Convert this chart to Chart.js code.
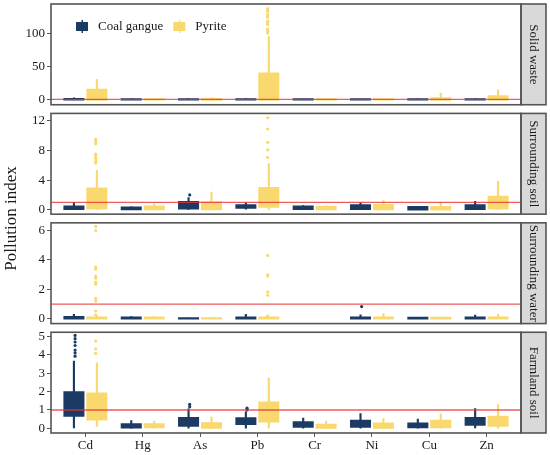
<!DOCTYPE html>
<html>
<head>
<meta charset="utf-8">
<script src="https://cdn.jsdelivr.net/npm/chart.js@4.4.1/dist/chart.umd.min.js"></script>
<style>
  body { margin: 0; background: #fff; }
</style>
</head>
<body>
<canvas id="chart" width="550" height="455"></canvas>
<script>
'use strict';

const elements = ['Cd', 'Hg', 'As', 'Pb', 'Cr', 'Ni', 'Cu', 'Zn'];
const groups = ['Coal gangue', 'Pyrite'];
const media = ['Solid waste', 'Surrounding soil', 'Surrounding water', 'Farmland soil'];
const threshold = 1;

// y range + tick labels of each facet
const solidRange = [-7.2, 145];
const soilRange = [-0.6, 13];
const waterRange = [-0.31, 6.5];
const farmRange = [-0.25, 5.22];
const solidTicks = [0, 50, 100];
const soilTicks = [0, 4, 8, 12];
const waterTicks = [0, 2, 4, 6];
const farmTicks = [0, 1, 2, 3, 4, 5];

// boxplot per element : [lower whisker, Q1, Q3, upper whisker], null = no samples
const solidCoal = [[0, 0, 1.5, 3], [0, 0, 1, 1.5], [0, 0, 1, 2], [0, 0, 1.2, 2], [0, 0, 1, 1.2], [0, 0, 1, 1.2], [0, 0, 1, 1.5], [0, 0, 1, 1.5]];
const solidPyrite = [[0, 0.5, 15.5, 31], [0, 0, 1, 1.5], [0, 0.3, 1.5, 3.5], [0, 0.5, 40, 96], [0, 0, 1, 1.2], [0, 0, 1, 1.5], [0, 0.3, 2.5, 10], [0, 0.5, 5.5, 15]];
const soilCoal = [[0, 0.1, 0.45, 0.9], [0, 0.05, 0.3, 0.35], [0, 0.15, 1.05, 1.6], [0.1, 0.25, 0.6, 0.9], [0, 0.1, 0.45, 0.55], [0, 0.1, 0.6, 0.9], [0, 0.02, 0.35, 0.4], [0, 0.1, 0.6, 1.1]];
const soilPyrite = [[0, 0.15, 2.85, 5.3], [0, 0.05, 0.45, 0.77], [0, 0.05, 1.0, 2.35], [0, 0.4, 2.93, 6.2], [0, 0.05, 0.4, 0.5], [0, 0.05, 0.65, 1.2], [0, 0.02, 0.35, 1.0], [0, 0.15, 1.75, 3.8]];
const waterCoal = [[0, 0, 0.13, 0.3], [0, 0, 0.1, 0.15], [0, 0, 0.05, 0.05], [0, 0, 0.1, 0.3], null, [0, 0, 0.1, 0.27], [0, 0, 0.08, 0.08], [0, 0, 0.1, 0.25]];
const waterPyrite = [[0, 0, 0.1, 0.2], [0, 0, 0.1, 0.15], [0, 0, 0.05, 0.05], [0, 0, 0.1, 0.15], null, [0, 0, 0.1, 0.35], [0, 0, 0.08, 0.1], [0, 0, 0.1, 0.3]];
const farmCoal = [[0.04, 0.68, 1.96, 3.64], [0, 0.05, 0.22, 0.42], [0, 0.15, 0.57, 1.05], [0, 0.24, 0.55, 0.89], [0, 0.09, 0.33, 0.55], [0, 0.09, 0.41, 0.8], [0, 0.06, 0.26, 0.5], [0.04, 0.2, 0.57, 1.07]];
const farmPyrite = [[0.11, 0.48, 1.9, 3.55], [0, 0.06, 0.22, 0.37], [0, 0.04, 0.28, 0.6], [0, 0.37, 1.4, 2.73], [0, 0.04, 0.2, 0.37], [0, 0.04, 0.26, 0.52], [0, 0.06, 0.42, 0.78], [0, 0.15, 0.63, 1.29]];

// outliers per element
const solidCoalOut = [[], [], [], [], [], [], [], []];
const solidPyriteOut = [[], [], [], [101, 104, 107, 114, 117, 119, 125, 127, 129, 134, 136, 138], [], [], [], []];
const soilCoalOut = [[], [], [2.0], [], [], [], [], []];
const soilPyriteOut = [[6.3, 6.6, 6.9, 7.2, 7.5, 8.9, 9.2, 9.5], [], [], [7.07, 8.07, 9.1, 10.9, 12.4], [], [], [], []];
const waterCoalOut = [[], [], [], [], [], [0.84], [], []];
const waterPyriteOut = [[0.27, 0.54, 1.22, 1.4, 2.35, 2.49, 2.76, 2.9, 3.37, 3.5, 5.97, 6.26], [], [], [0.2, 1.6, 1.83, 2.9, 2.98, 4.3], [], [], [], []];
const farmCoalOut = [[3.92, 4.1, 4.25, 4.5, 4.69, 4.87, 5.05], [], [1.17, 1.3], [1.0, 1.1], [], [], [], []];
const farmPyriteOut = [[4.07, 4.32, 4.74], [], [], [], [], [], [], []];

const COAL = '#1b3a64';
const PYRITE = '#f9d96e';
const LINE = 'rgba(232, 50, 50, 0.8)';
const FRAME = '#555555';
const colours = [COAL, PYRITE];
const catPct = 0.72;
const dodge = catPct / 4;   // centre of each group slot, in category units
const xMin = -0.6, xMax = elements.length - 1 + 0.6;

Chart.defaults.font.family = '"Liberation Serif", "Times New Roman", serif';
Chart.defaults.color = '#1a1a1a';

const facets = [
    { id: 'y0', range: solidRange, ticks: solidTicks, stats: [solidCoal, solidPyrite], out: [solidCoalOut, solidPyriteOut] },
    { id: 'y1', range: soilRange, ticks: soilTicks, stats: [soilCoal, soilPyrite], out: [soilCoalOut, soilPyriteOut] },
    { id: 'y2', range: waterRange, ticks: waterTicks, stats: [waterCoal, waterPyrite], out: [waterCoalOut, waterPyriteOut] },
    { id: 'y3', range: farmRange, ticks: farmTicks, stats: [farmCoal, farmPyrite], out: [farmCoalOut, farmPyriteOut] }
];

const datasets = [];
facets.forEach(f => {
    f.stats.forEach((stats, g) => {
        // whiskers
        datasets.push({
            type: 'bar', label: groups[g], stack: groups[g], yAxisID: f.id, order: 2,
            data: stats.map((s, i) => s && { x: i, y: [s[0], s[3]] }).filter(Boolean),
            backgroundColor: colours[g], barPercentage: 0.05, inflateAmount: 0.5
        });
        // boxes
        datasets.push({
            type: 'bar', label: groups[g], stack: groups[g], yAxisID: f.id, order: 1,
            data: stats.map((s, i) => s && { x: i, y: [s[1], s[2]] }).filter(Boolean),
            backgroundColor: colours[g], barPercentage: 0.83, inflateAmount: 1
        });
        // outliers
        const pts = [];
        f.out[g].forEach((vals, i) => vals.forEach(v => pts.push({ x: i + (g ? dodge : -dodge), y: v })));
        datasets.push({
            type: 'scatter', label: groups[g], yAxisID: f.id, order: 1, data: pts,
            backgroundColor: colours[g], borderWidth: 0, pointRadius: 1.6
        });
    });
    datasets.push({
        type: 'line', label: 'threshold', yAxisID: f.id, order: 0,
        data: [{ x: xMin, y: threshold }, { x: xMax, y: threshold }],
        borderColor: LINE, borderWidth: 1.3, pointRadius: 0
    });
});

const scales = {
    x: {
        type: 'linear', min: xMin, max: xMax, offset: false,
        afterBuildTicks: s => { s.ticks = elements.map((e, i) => ({ value: i })); },
        afterFit: s => { s.height = 22; },
        ticks: { callback: v => elements[v], font: { size: 13 }, padding: 1, maxRotation: 0, autoSkip: false },
        grid: { offset: false, drawOnChartArea: false, tickLength: 4, color: FRAME, lineWidth: 1 },
        border: { display: false }
    }
};
// facets stacked top -> bottom, thin hidden spacers between them
facets.forEach((f, k) => {
    if (k > 0) {
        scales['gap' + k] = { type: 'linear', display: false, position: 'left', stack: 'facets', stackWeight: 8.7, weight: 20 - 2 * k + 1 };
    }
    scales[f.id] = {
        type: 'linear', position: 'left', stack: 'facets', stackWeight: 101, weight: 20 - 2 * k,
        stacked: false, min: f.range[0], max: f.range[1],
        afterBuildTicks: s => { s.ticks = f.ticks.map(v => ({ value: v })); },
        afterFit: s => { s.width = 51; s.paddingTop = 0; s.paddingBottom = 0; },
        ticks: { font: { size: 13 }, padding: 2, autoSkip: false },
        grid: { drawOnChartArea: false, tickLength: 4, color: FRAME, lineWidth: 1 },
        border: { display: false }
    };
});

const facetFrame = {
    id: 'facetFrame',
    afterDraw(chart) {
        const { ctx, chartArea } = chart;
        const stripW = 25;
        ctx.save();
        facets.forEach((f, k) => {
            const s = chart.scales[f.id];
            ctx.fillStyle = '#d9d9d9';
            ctx.fillRect(chartArea.right, s.top, stripW, s.height);
            ctx.strokeStyle = FRAME;
            ctx.lineWidth = 1.6;
            ctx.strokeRect(chartArea.left, s.top, chartArea.width, s.height);
            ctx.save();
            ctx.beginPath();
            ctx.rect(chartArea.right, s.top, stripW, s.height);
            ctx.clip();
            ctx.translate(chartArea.right + stripW / 2, (s.top + s.bottom) / 2);
            ctx.rotate(Math.PI / 2);
            ctx.fillStyle = '#1a1a1a';
            ctx.font = '13px "Liberation Serif"';
            ctx.textAlign = 'center';
            ctx.textBaseline = 'middle';
            ctx.fillText(media[k], 0, 0);
            ctx.restore();
            ctx.strokeRect(chartArea.right, s.top, stripW, s.height);
        });

        // y title
        ctx.save();
        ctx.translate(12, (chartArea.top + chartArea.bottom) / 2);
        ctx.rotate(-Math.PI / 2);
        ctx.fillStyle = '#1a1a1a';
        ctx.font = '17px "Liberation Serif"';
        ctx.textAlign = 'center';
        ctx.textBaseline = 'middle';
        ctx.fillText('Pollution index', 0, 0);
        ctx.restore();

        // legend inside the first facet
        const top = chart.scales.y0.top;
        let x = chartArea.left + 25;
        ctx.font = '13px "Liberation Serif"';
        ctx.textBaseline = 'middle';
        ctx.textAlign = 'left';
        groups.forEach((name, g) => {
            ctx.fillStyle = colours[g];
            ctx.fillRect(x, top + 18, 12, 9);
            ctx.fillRect(x + 5.5, top + 16, 1.5, 13);
            ctx.fillStyle = '#1a1a1a';
            ctx.fillText(name, x + 22, top + 22.5);
            x += 22 + ctx.measureText(name).width + 10;
        });
        ctx.restore();
    }
};

new Chart(document.getElementById('chart'), {
    type: 'bar',
    data: { datasets: datasets },
    options: {
        responsive: false,
        animation: false,
        layout: { padding: { left: 0, top: 3, right: 29, bottom: 0 } },
        plugins: { legend: { display: false }, tooltip: { enabled: false } },
        scales: scales
    },
    plugins: [facetFrame]
});
</script>
</body>
</html>
